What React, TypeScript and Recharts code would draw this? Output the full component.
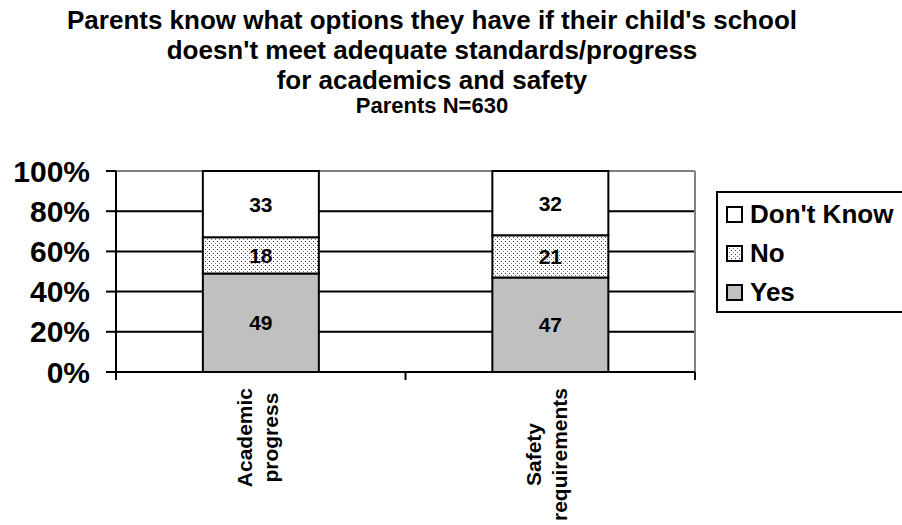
import { BarChart, Bar, XAxis, YAxis, CartesianGrid, LabelList } from "recharts";

const categories = ["Academic progress", "Safety requirements"];
const categoryLines = [["Academic", "progress"], ["Safety", "requirements"]];
const yesValues = [49, 47];
const noValues = [18, 21];
const dontKnowValues = [33, 32];
const yTicks = [0, 20, 40, 60, 80, 100];
const titleLines = [
  "Parents know what options they have if their child's school",
  "doesn't meet adequate standards/progress",
  "for academics and safety",
];
const subtitle = "Parents N=630";

const legendItems = [
  { label: "Don't Know", fill: "#ffffff" },
  { label: "No", fill: "url(#dots)" },
  { label: "Yes", fill: "#c0c0c0" },
];

const data = categories.map((name, i) => ({
  name,
  yes: yesValues[i],
  no: noValues[i],
  dontKnow: dontKnowValues[i],
}));

const FONT = '"Liberation Sans", Arial, sans-serif';

const measure = (text: string, font: string) => {
  const ctx = document.createElement("canvas").getContext("2d");
  if (!ctx) return text.length * 11;
  ctx.font = font;
  return ctx.measureText(text).width;
};

const CategoryTick = (props: any) => {
  const { x, y, payload } = props;
  const idx = categories.indexOf(payload.value);
  const lines = categoryLines[idx] || [payload.value];
  const font = `bold 21px ${FONT}`;
  const longest = Math.max(...lines.map((l) => measure(l, font)));
  const cy = y + 8 + longest / 2;
  const pitch = 26;
  return (
    <g>
      {lines.map((line, i) => {
        const bx = x + (i - (lines.length - 1) / 2) * pitch + 4;
        return (
          <text
            key={line}
            transform={`translate(${bx},${cy}) rotate(-90)`}
            textAnchor="middle"
            fontSize={21}
            fontWeight="bold"
            fill="#000"
          >
            {line}
          </text>
        );
      })}
    </g>
  );
};

// horizontal grid: black lines, gray top edge + gray right edge, boundary ticks on the bottom
const gridLine = (p: any) => {
  const top = p.y;
  const bottom = p.y + p.height;
  if (Math.abs(p.y1 - top) < 1) {
    return (
      <g key={p.key}>
        <line x1={p.x1} y1={p.y1} x2={p.x2} y2={p.y2} stroke="#808080" strokeWidth={2} />
        <line x1={p.x2} y1={top} x2={p.x2} y2={bottom} stroke="#808080" strokeWidth={2} />
      </g>
    );
  }
  if (Math.abs(p.y1 - bottom) < 1) {
    const xs = [p.x, p.x + p.width / 2, p.x + p.width];
    return (
      <g key={p.key}>
        {xs.map((tx) => (
          <line key={tx} x1={tx} y1={bottom} x2={tx} y2={bottom + 8} stroke="#000" strokeWidth={2} />
        ))}
      </g>
    );
  }
  return <line key={p.key} x1={p.x1} y1={p.y1} x2={p.x2} y2={p.y2} stroke="#000" strokeWidth={2} />;
};

const labelStyle = { fontSize: 21, fontWeight: "bold" as const, fill: "#000" };

export default function App() {
  return (
    <div
      style={{
        position: "absolute",
        left: 0,
        top: 0,
        width: 902,
        height: 525,
        overflow: "hidden",
        background: "#fff",
        fontFamily: FONT,
      }}
    >
      <svg width={0} height={0} style={{ position: "absolute" }}>
        <defs>
          <pattern id="dots" width={4} height={4} patternUnits="userSpaceOnUse">
            <rect width={4} height={4} fill="#fff" />
            <rect x={1} y={1} width={1} height={1} fill="#333" />
            <rect x={3} y={3} width={1} height={1} fill="#777" />
          </pattern>
        </defs>
      </svg>

      <svg width={902} height={130} style={{ position: "absolute", left: 0, top: 0 }}>
        {titleLines.map((t, i) => (
          <text
            key={t}
            x={432}
            y={29 + i * 30}
            textAnchor="middle"
            fontSize={26}
            fontWeight="bold"
            fill="#000"
          >
            {t}
          </text>
        ))}
        <text x={432} y={113} textAnchor="middle" fontSize={22} fontWeight="bold" fill="#000">
          {subtitle}
        </text>
      </svg>

      <BarChart
        width={902}
        height={525}
        data={data}
        margin={{ top: 171, right: 207, left: 0, bottom: 0 }}
        barCategoryGap="30%"
      >
        <CartesianGrid vertical={false} horizontal={gridLine} />
        <XAxis
          dataKey="name"
          height={153}
          axisLine={{ stroke: "#000", strokeWidth: 2 }}
          tickLine={false}
          tick={<CategoryTick />}
          interval={0}
        />
        <YAxis
          width={116}
          domain={[0, 100]}
          ticks={yTicks}
          interval={0}
          tickFormatter={(v: number) => `${v}%`}
          axisLine={{ stroke: "#000", strokeWidth: 2 }}
          tickLine={{ stroke: "#000", strokeWidth: 2 }}
          tickSize={10}
          tickMargin={16}
          tick={{ fontSize: 30, fontWeight: "bold", fill: "#000" }}
        />
        <Bar dataKey="yes" stackId="a" fill="#c0c0c0" stroke="#000" strokeWidth={2} isAnimationActive={false}>
          <LabelList dataKey="yes" position="center" style={labelStyle} />
        </Bar>
        <Bar dataKey="no" stackId="a" fill="url(#dots)" stroke="#000" strokeWidth={2} isAnimationActive={false}>
          <LabelList dataKey="no" position="center" style={labelStyle} />
        </Bar>
        <Bar dataKey="dontKnow" stackId="a" fill="#ffffff" stroke="#000" strokeWidth={2} isAnimationActive={false}>
          <LabelList dataKey="dontKnow" position="center" style={labelStyle} />
        </Bar>
      </BarChart>

      <div
        style={{
          position: "absolute",
          left: 716,
          top: 191,
          width: 200,
          height: 122,
          border: "2px solid #000",
          boxSizing: "border-box",
          paddingTop: 2,
          background: "#fff",
        }}
      >
        {legendItems.map((it) => (
          <div
            key={it.label}
            style={{ display: "flex", alignItems: "center", height: 39, paddingLeft: 8 }}
          >
            <svg width={18} height={17} style={{ marginRight: 6 }}>
              <rect x={1} y={1} width={15} height={15} fill={it.fill} stroke="#000" strokeWidth={2} />
            </svg>
            <span style={{ fontSize: 26, fontWeight: "bold", color: "#000", whiteSpace: "nowrap" }}>
              {it.label}
            </span>
          </div>
        ))}
      </div>
    </div>
  );
}
